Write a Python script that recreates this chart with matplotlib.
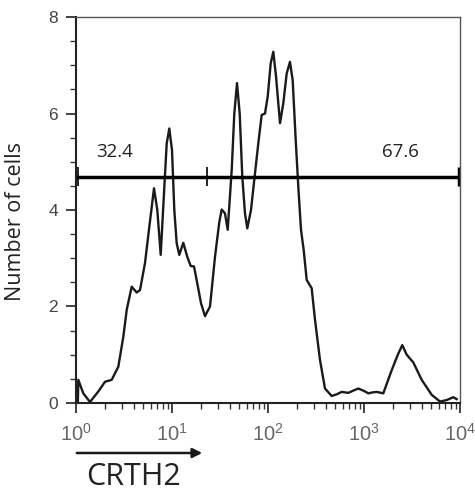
import numpy as np
import matplotlib.pyplot as plt
from matplotlib.patches import FancyArrowPatch
from matplotlib.ticker import FixedLocator, NullFormatter

# histogram (CRTH2 intensity, cell count)
intensity = [1.045, 1.057, 1.191, 1.399, 1.695, 2.005, 2.354, 2.758, 3.110, 3.375,
             3.804, 4.290, 4.642, 5.233, 5.801, 6.494, 7.029, 7.627, 8.254, 8.808,
             9.374, 10.0, 10.57, 11.19, 11.91, 13.11, 14.43, 15.66, 16.95, 18.34,
             20.05, 22.07, 24.88, 28.05, 31.10, 32.94, 35.65, 38.04, 41.88, 44.58,
             47.55, 50.72, 53.98, 57.57, 60.83, 66.51, 73.2, 79.25, 85.94, 93.05,
             99.3, 106.7, 113.6, 121.2, 133.4, 144.3, 156.6, 169.4, 180.8, 194.4,
             206.9, 220.7, 235.4, 253.0, 285.1, 309.0, 348.1, 392.4, 461,
             520, 586, 686, 780, 873, 1000, 1110, 1230, 1356, 1589, 1944, 2250,
             2505, 2786, 3265, 3990, 5070, 6190, 7260, 8510, 9240]
counts = [0.0, 0.48, 0.2, 0.02, 0.23, 0.44, 0.48, 0.75, 1.37, 1.93,
          2.41, 2.29, 2.34, 2.90, 3.65, 4.45, 4.0, 3.07, 4.35, 5.38,
          5.69, 5.24, 4.0, 3.31, 3.07, 3.32, 3.03, 2.84, 2.83, 2.48,
          2.07, 1.80, 2.0, 3.03, 3.75, 4.01, 3.93, 3.59, 4.83, 6.0,
          6.63, 6.0, 4.69, 3.93, 3.62, 4.0, 4.76, 5.38, 5.97, 6.0,
          6.35, 7.04, 7.28, 6.77, 5.80, 6.21, 6.83, 7.07, 6.69, 5.45,
          4.48, 3.59, 3.17, 2.55, 2.38, 1.72, 0.89, 0.30, 0.145,
          0.18, 0.23, 0.21, 0.26, 0.30, 0.25, 0.20, 0.22, 0.23, 0.20, 0.68, 1.0,
          1.20, 1.0, 0.84, 0.48, 0.17, 0.03, 0.06, 0.12, 0.08]

gate_left = 1.06
gate_mid = 23.0
gate_right = 9770
gate_level = 4.69
gate_labels = ['32.4', '67.6']
gate_label_x = [2.55, 2400]
gate_label_y = 5.2

x_ticks = [1, 10, 100, 1000, 10000]
x_ticklabels = ['$10^{0}$', '$10^{1}$', '$10^{2}$', '$10^{3}$', '$10^{4}$']
y_ticks = [0, 2, 4, 6, 8]

plt.rcParams['mathtext.fontset'] = 'custom'
plt.rcParams['mathtext.rm'] = 'Liberation Sans'
plt.rcParams['mathtext.it'] = 'Liberation Sans'

fig = plt.figure(figsize=(4.75, 4.99), dpi=100)
ax = fig.add_axes([0.16, 0.1924, 0.8084, 0.7735])

ax.plot(intensity, counts, color='#1a1a1a', lw=1.7, solid_joinstyle='round')

# gate bar
ax.plot([gate_left, gate_right], [gate_level, gate_level], color='black', lw=2.5)
ax.vlines([gate_left, gate_mid], gate_level - 0.2, gate_level + 0.2, color='black', lw=1.2)
ax.vlines([gate_right], gate_level - 0.2, gate_level + 0.2, color='black', lw=2.5)
for lab, gx in zip(gate_labels, gate_label_x):
    ax.text(gx, gate_label_y, lab, ha='center', va='center', fontsize=13.5,
            family='Open Sans', color='#222')

ax.set_xscale('log')
ax.set_xlim(1, 10000)
ax.set_ylim(0, 8)
ax.xaxis.set_major_locator(FixedLocator(x_ticks))
ax.set_xticklabels(x_ticklabels)
ax.xaxis.set_minor_locator(FixedLocator([m * d for d in [1, 10, 100, 1000] for m in range(2, 10)]))
ax.xaxis.set_minor_formatter(NullFormatter())
ax.set_yticks(y_ticks)
ax.yaxis.set_minor_locator(FixedLocator(np.arange(0, 8.01, 0.5)))

ax.tick_params(which='major', length=7, width=1.3, color='#333')
ax.tick_params(which='minor', length=4, width=1.0, color='#333')
ax.tick_params(axis='x', which='major', labelsize=14.5, labelcolor='#666', pad=7)
ax.tick_params(axis='y', which='major', labelsize=12.5, labelcolor='#444', pad=6)
for lab in ax.get_yticklabels():
    lab.set_family('Liberation Sans')

for s in ['left', 'bottom']:
    ax.spines[s].set_linewidth(1.5)
    ax.spines[s].set_color('#222')
for s in ['top', 'right']:
    ax.spines[s].set_linewidth(1.0)
    ax.spines[s].set_color('#555')

ax.set_ylabel('Number of cells', family='Open Sans', fontsize=15.5, color='#222')
ax.yaxis.set_label_coords(-0.13, 0.469)

# CRTH2 arrow under the axis
fig.patches.append(FancyArrowPatch(
    (74 / 475, 1 - 453 / 499), (205 / 475, 1 - 453 / 499), transform=fig.transFigure,
    arrowstyle='-|>', mutation_scale=14, lw=1.8, color='#1a1a1a'))
fig.text(134 / 475, 1 - 477 / 499, 'CRTH2', ha='center', va='center', fontsize=22,
         family='Open Sans', color='#222')

fig.savefig('out.png', dpi=100)
